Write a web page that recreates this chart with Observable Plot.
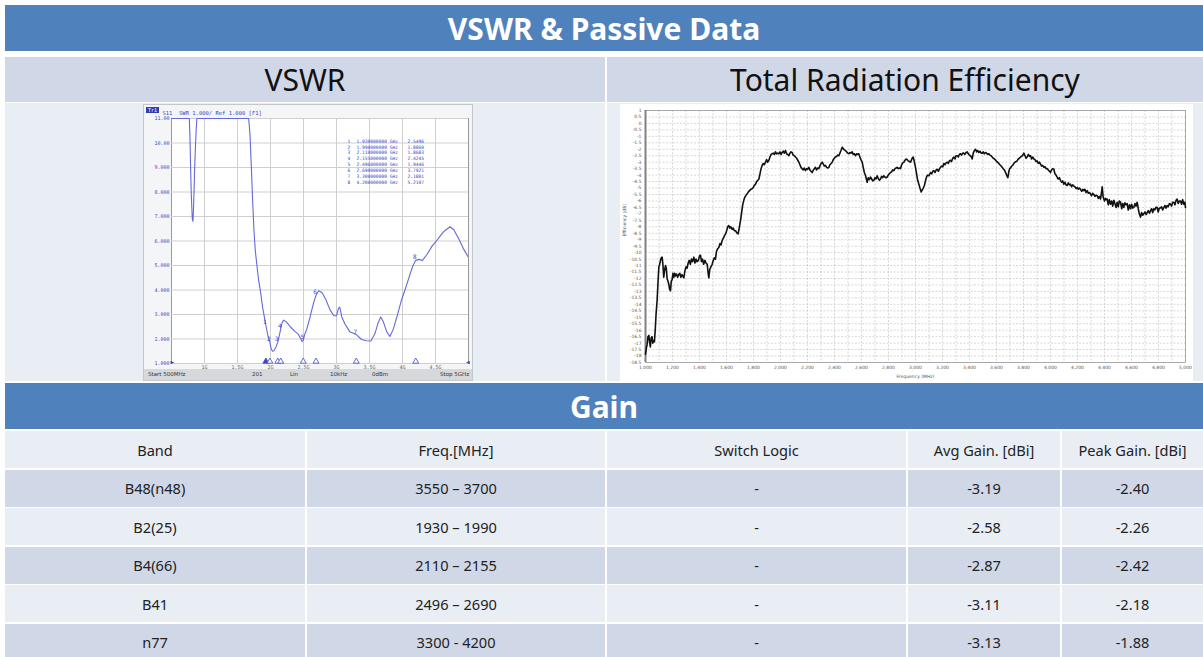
<!DOCTYPE html>
<html><head><meta charset="utf-8">
<script src="https://cdn.jsdelivr.net/npm/d3@7"></script>
<script src="https://cdn.jsdelivr.net/npm/@observablehq/plot@0.6"></script>
<style>
body{margin:0;width:1203px;height:657px;position:relative;overflow:hidden;background:#fff;font-family:"Noto Sans","Open Sans",sans-serif;}
.abs{position:absolute;box-sizing:border-box;}
.hdr{background:#4F81BD;color:#fff;font-weight:bold;display:flex;align-items:center;justify-content:center;font-size:30px;}
.sub{background:#D0D8E8;color:#111;display:flex;align-items:center;justify-content:center;font-size:30px;}
.cell{display:flex;align-items:center;justify-content:center;font-size:14.6px;color:#222;}
</style></head><body>
<script>
// ---------- data ----------
const pageTitle = "VSWR & Passive Data";
const panelTitles = ["VSWR", "Total Radiation Efficiency"];
const gainTitle = "Gain";

// VSWR trace (GHz, VSWR)
const vswrFreq = [0.5,0.77,0.78,0.79,0.80,0.815,0.825,0.835,0.85,0.865,0.875,0.885,1.67,1.69,1.71,1.73,1.75,1.77,1.79,1.82,1.85,1.88,1.91,1.93,1.96,1.99,2.01,2.03,2.05,2.08,2.11,2.13,2.155,2.18,2.20,2.24,2.30,2.36,2.42,2.46,2.48,2.496,2.52,2.55,2.60,2.65,2.69,2.73,2.78,2.84,2.90,2.96,3.00,3.03,3.05,3.08,3.13,3.20,3.30,3.38,3.45,3.52,3.58,3.63,3.67,3.71,3.76,3.81,3.86,3.92,3.98,4.05,4.12,4.16,4.20,4.25,4.30,4.37,4.45,4.50,4.57,4.63,4.72,4.78,4.85,4.92,5.0];
const vswrValue = [11,11,10.2,8.9,7.9,6.9,6.8,7.4,8.9,10.0,10.6,11,11,10.3,9.0,7.6,6.4,5.6,5.1,4.4,3.9,3.3,2.85,2.55,2.15,1.886,1.6,1.5,1.52,1.65,1.87,2.1,2.42,2.7,2.77,2.7,2.5,2.33,2.2,2.0,1.9,1.94,2.2,2.4,2.9,3.45,3.79,3.97,3.9,3.6,3.2,2.95,2.95,3.25,3.3,2.9,2.6,2.3,2.18,1.98,1.93,1.92,2.2,2.65,2.9,2.7,2.3,2.1,2.4,2.95,3.55,4.1,4.7,5.0,5.21,5.25,5.2,5.45,5.8,5.95,6.2,6.4,6.58,6.45,6.1,5.7,5.33];
const markerNum = [1,2,3,4,5,6,7,8];
const markerFreq = [1.93,1.99,2.11,2.155,2.496,2.69,3.30,4.20];
const markerVswr = [2.5496,1.8860,1.8683,2.4245,1.9446,3.7921,2.1801,5.2107];
const markerFreqText = ["1.930000000 GHz","1.990000000 GHz","2.110000000 GHz","2.155000000 GHz","2.496000000 GHz","2.690000000 GHz","3.300000000 GHz","4.200000000 GHz"];
const vswrXTicks = [1,1.5,2,2.5,3,3.5,4,4.5];
const vswrXLabels = ["1G","1.5G","2G","2.5G","3G","3.5G","4G","4.5G"];
const vswrYTicks = [1,2,3,4,5,6,7,8,9,10,11];
const vswrYLabels = ["1.000","2.000","3.000","4.000","5.000","6.000","7.000","8.000","9.000","10.00","11.00"];
const vswrStatus = ["Start 500MHz","201","Lin","10kHz","0dBm","Stop 5GHz"];

// Efficiency trace (MHz, dB)
const effFreq = [1000,1008,1012,1018,1025,1030,1036,1042,1048,1054,1060,1066,1072,1078,1086,1092,1099,1105,1111,1117,1123,1129,1135,1141,1148,1154,1160,1166,1172,1178,1185,1191,1197,1203,1210,1216,1222,1230,1238,1246,1254,1262,1270,1278,1284,1292,1300,1308,1316,1324,1332,1340,1348,1358,1366,1374,1382,1392,1400,1407,1415,1423,1431,1440,1448,1457,1463,1469,1476,1484,1494,1502,1510,1518,1526,1534,1543,1552,1560,1568,1576,1584,1593,1601,1609,1617,1625,1633,1642,1650,1658,1667,1675,1686,1694,1704,1712,1720,1728,1736,1745,1753,1762,1771,1780,1790,1798,1806,1815,1823,1832,1840,1848,1856,1864,1872,1880,1889,1897,1905,1914,1922,1930,1938,1947,1955,1963,1971,1980,1988,1996,2004,2012,2020,2028,2037,2045,2054,2062,2070,2078,2086,2094,2103,2111,2120,2128,2136,2144,2152,2160,2168,2176,2185,2193,2201,2210,2218,2226,2235,2243,2251,2259,2267,2276,2284,2292,2300,2309,2317,2325,2333,2341,2350,2358,2366,2375,2383,2391,2399,2407,2416,2424,2432,2440,2448,2457,2465,2473,2481,2490,2498,2506,2514,2522,2531,2539,2547,2556,2564,2572,2580,2588,2596,2605,2613,2621,2630,2636,2642,2650,2658,2667,2675,2683,2691,2700,2708,2716,2724,2733,2741,2749,2757,2765,2773,2782,2790,2798,2806,2815,2823,2831,2840,2848,2856,2864,2872,2880,2889,2897,2905,2914,2922,2930,2938,2946,2955,2963,2971,2978,2983,2990,3000,3008,3016,3025,3033,3042,3050,3058,3066,3075,3083,3091,3100,3111,3120,3128,3136,3145,3153,3161,3170,3178,3185,3194,3202,3210,3218,3226,3235,3243,3251,3259,3267,3276,3284,3292,3300,3309,3317,3325,3333,3341,3350,3358,3366,3375,3383,3391,3399,3407,3414,3420,3428,3436,3445,3453,3461,3469,3478,3486,3494,3502,3510,3519,3527,3535,3543,3551,3560,3568,3576,3585,3593,3601,3609,3617,3625,3634,3642,3650,3658,3667,3675,3684,3690,3697,3704,3712,3720,3728,3736,3745,3753,3761,3770,3778,3786,3795,3803,3811,3819,3827,3836,3844,3852,3860,3868,3877,3885,3893,3901,3910,3918,3926,3934,3942,3951,3959,3967,3975,3984,3992,4000,4008,4016,4025,4033,4041,4049,4057,4066,4074,4082,4090,4099,4107,4115,4124,4132,4140,4148,4156,4165,4173,4181,4190,4198,4206,4214,4222,4231,4239,4247,4255,4263,4272,4280,4288,4296,4304,4312,4321,4329,4337,4346,4354,4362,4370,4376,4383,4390,4400,4408,4415,4420,4428,4436,4445,4453,4461,4469,4477,4486,4494,4502,4510,4519,4527,4535,4543,4551,4560,4568,4576,4585,4593,4601,4609,4617,4626,4634,4642,4650,4658,4667,4675,4683,4691,4700,4708,4716,4724,4733,4741,4749,4757,4765,4773,4781,4790,4798,4806,4815,4823,4831,4840,4848,4856,4864,4872,4881,4889,4897,4905,4914,4922,4930,4938,4946,4955,4963,4971,4979,4988,4995,5000];
const effValue = [-17.85,-17.3,-17.1,-16.5,-16.4,-16.9,-17.3,-16.6,-16.5,-17.0,-16.8,-16.9,-16.0,-14.8,-13.7,-12.4,-11.1,-10.9,-10.6,-10.4,-10.35,-10.9,-11.9,-11.4,-11.0,-11.2,-12.0,-12.2,-12.4,-12.8,-12.95,-12.2,-12.1,-11.6,-11.9,-11.6,-11.8,-11.65,-11.9,-11.7,-11.6,-11.9,-11.7,-11.85,-11.95,-11.4,-11.1,-11.2,-10.8,-10.6,-10.9,-10.5,-10.7,-10.35,-10.8,-10.5,-10.7,-10.6,-10.25,-10.2,-10.7,-10.5,-10.9,-10.6,-10.8,-10.9,-11.5,-11.95,-11.3,-11.1,-10.9,-10.6,-10.4,-10.5,-9.9,-9.7,-9.6,-9.3,-9.4,-9.05,-8.9,-8.7,-8.55,-8.3,-8.0,-7.9,-8.1,-8.0,-8.2,-8.1,-8.3,-8.3,-8.45,-8.55,-8.1,-7.5,-6.9,-6.3,-5.95,-5.7,-5.55,-5.45,-5.3,-5.2,-5.1,-5.05,-4.95,-4.8,-4.7,-4.5,-4.4,-4.3,-3.9,-3.5,-3.25,-3.1,-3.2,-3.0,-2.8,-3.0,-2.85,-2.6,-2.4,-2.35,-2.3,-2.4,-2.2,-2.35,-2.3,-2.35,-2.2,-2.4,-2.25,-2.15,-2.3,-2.1,-2.35,-2.4,-2.5,-2.3,-2.2,-2.25,-2.45,-2.5,-2.6,-2.7,-2.85,-3.0,-3.2,-3.4,-3.5,-3.6,-3.45,-3.65,-3.5,-3.55,-3.4,-3.6,-3.7,-3.8,-3.6,-3.5,-3.4,-3.6,-3.45,-3.5,-3.3,-3.1,-3.0,-3.15,-3.3,-3.25,-3.4,-3.45,-3.4,-3.2,-3.1,-3.0,-2.8,-2.7,-2.6,-2.55,-2.45,-2.5,-2.3,-2.1,-1.85,-1.95,-2.05,-2.1,-2.2,-2.3,-2.35,-2.25,-2.3,-2.2,-2.4,-2.35,-2.5,-2.35,-2.4,-2.35,-2.6,-2.8,-3.0,-3.4,-3.8,-4.05,-4.3,-4.55,-4.2,-4.35,-4.15,-4.3,-4.45,-4.4,-4.2,-4.3,-4.05,-4.25,-4.4,-4.3,-4.1,-4.2,-4.05,-4.15,-4.2,-4.15,-4.0,-3.9,-3.8,-3.75,-3.6,-3.65,-3.5,-3.45,-3.4,-3.5,-3.45,-3.5,-3.2,-3.05,-3.0,-2.85,-2.75,-2.8,-2.9,-2.95,-3.0,-2.8,-2.65,-2.6,-2.9,-3.4,-3.9,-4.4,-4.7,-5.0,-5.3,-5.15,-5.0,-4.8,-4.4,-4.1,-4.0,-4.05,-3.8,-3.9,-3.7,-3.65,-3.8,-3.6,-3.55,-3.7,-3.5,-3.4,-3.3,-3.35,-3.1,-3.2,-3.05,-3.0,-3.1,-2.9,-2.85,-2.95,-2.7,-2.6,-2.75,-2.5,-2.5,-2.6,-2.4,-2.35,-2.45,-2.3,-2.3,-2.4,-2.25,-2.2,-2.35,-2.45,-2.5,-2.6,-2.75,-2.3,-2.1,-2.0,-2.2,-2.1,-2.25,-2.15,-2.3,-2.3,-2.2,-2.35,-2.25,-2.3,-2.4,-2.35,-2.45,-2.5,-2.6,-2.7,-2.75,-2.85,-2.95,-3.0,-3.1,-3.2,-3.3,-3.4,-3.5,-3.6,-3.8,-4.0,-4.2,-3.8,-3.5,-3.45,-3.3,-3.25,-3.1,-3.0,-2.95,-2.9,-2.75,-2.7,-2.6,-2.55,-2.45,-2.3,-2.5,-2.7,-2.6,-2.4,-2.55,-2.5,-2.75,-2.6,-2.75,-2.8,-2.95,-2.9,-3.1,-3.0,-3.15,-3.3,-3.25,-3.4,-3.35,-3.5,-3.5,-3.6,-3.7,-3.8,-3.6,-3.5,-3.55,-3.9,-4.0,-4.15,-4.3,-4.2,-4.4,-4.55,-4.45,-4.7,-4.55,-4.75,-4.8,-4.6,-4.75,-4.7,-4.9,-4.75,-4.85,-4.9,-5.05,-4.95,-5.1,-5.0,-5.1,-5.25,-5.1,-5.2,-5.1,-5.35,-5.2,-5.4,-5.35,-5.45,-5.6,-5.4,-5.5,-5.65,-5.55,-5.6,-5.8,-5.65,-5.85,-5.5,-4.9,-5.7,-6.0,-5.8,-5.9,-5.85,-6.3,-5.9,-6.25,-6.0,-6.4,-5.95,-6.2,-6.5,-6.1,-6.45,-6.0,-6.1,-6.6,-6.2,-6.5,-6.15,-6.3,-6.2,-6.7,-6.3,-6.6,-6.25,-6.55,-6.5,-6.2,-6.4,-6.1,-6.6,-7.0,-7.25,-6.9,-7.1,-7.0,-6.85,-7.05,-6.9,-6.75,-6.95,-6.75,-6.6,-6.9,-6.6,-6.7,-6.5,-6.5,-6.85,-6.55,-6.55,-6.45,-6.7,-6.5,-6.35,-6.55,-6.35,-6.45,-6.2,-6.25,-6.4,-6.1,-6.1,-6.3,-5.95,-5.85,-6.2,-6.0,-6.0,-6.25,-5.9,-6.25,-6.1,-6.5];
const effXTicks = [1000,1200,1400,1600,1800,2000,2200,2400,2600,2800,3000,3200,3400,3600,3800,4000,4200,4400,4600,4800,5000];
const effXGrid = [1000,1100,1200,1300,1400,1500,1600,1700,1800,1900,2000,2100,2200,2300,2400,2500,2600,2700,2800,2900,3000,3100,3200,3300,3400,3500,3600,3700,3800,3900,4000,4100,4200,4300,4400,4500,4600,4700,4800,4900,5000];
const effYTicks = [1,0.5,0,-0.5,-1,-1.5,-2,-2.5,-3,-3.5,-4,-4.5,-5,-5.5,-6,-6.5,-7,-7.5,-8,-8.5,-9,-9.5,-10,-10.5,-11,-11.5,-12,-12.5,-13,-13.5,-14,-14.5,-15,-15.5,-16,-16.5,-17,-17.5,-18,-18.5];
const effXDomain = [1000, 5000];
const effYDomain = [-18.5, 1];

// Gain table
const gainColumns = ["Band","Freq.[MHz]","Switch Logic","Avg Gain. [dBi]","Peak Gain. [dBi]"];
const bands = ["B48(n48)","B2(25)","B4(66)","B41","n77"];
const freqRanges = ["3550 – 3700","1930 – 1990","2110 – 2155","2496 – 2690","3300 - 4200"];
const switchLogic = ["-","-","-","-","-"];
const avgGain = [-3.19,-2.58,-2.87,-3.11,-3.13];
const peakGain = [-2.40,-2.26,-2.42,-2.18,-1.88];

// ---------- layout helpers ----------
function box(cls, x, y, w, h, text, extra) {
  const d = document.createElement("div");
  d.className = "abs " + cls;
  Object.assign(d.style, {left: x + "px", top: y + "px", width: w + "px", height: h + "px"}, extra || {});
  if (text != null) d.textContent = text;
  document.body.appendChild(d);
  return d;
}

box("hdr", 5, 5, 1198, 46, pageTitle);
box("sub", 5, 57, 600, 45, panelTitles[0]);
box("sub", 607, 57, 596, 45, panelTitles[1]);
box("", 5, 103, 600, 278, null, {background: "#E9EDF4"});
box("", 607, 103, 596, 278, null, {background: "#E9EDF4"});
box("hdr", 5, 383, 1198, 46, gainTitle);

// ---------- VSWR chart ----------
const vswrData = vswrFreq.map((f, i) => ({f, v: vswrValue[i]}));
const markers = markerNum.map((n, i) => ({n, f: markerFreq[i], v: markerVswr[i], ft: markerFreqText[i]}));
const vswrWrap = box("", 143, 104, 330, 277, null, {background: "#F4F5F7", border: "1px solid #C4C8CE"});
const blue = "#3A45C8";
const vswrPlot = Plot.plot({
  width: 328, height: 275,
  marginLeft: 27, marginRight: 4, marginTop: 13, marginBottom: 17,
  style: {background: "transparent", fontSize: "5px", fontFamily: "'DejaVu Sans Mono', monospace"},
  x: {domain: [0.5, 5]},
  y: {domain: [1, 11]},
  marks: [
    Plot.frame({fill: "white", stroke: "#9a9a9a"}),
    Plot.gridX(vswrXTicks, {stroke: "#cfcfcf", strokeOpacity: 1}),
    Plot.gridY(vswrYTicks, {stroke: "#cfcfcf", strokeOpacity: 1}),
    Plot.axisX(vswrXTicks, {tickSize: 0, tickPadding: 2, fill: "#666", tickFormat: d => vswrXLabels[vswrXTicks.indexOf(d)], label: null}),
    Plot.axisY(vswrYTicks, {tickSize: 0, tickPadding: 2, fill: blue, tickFormat: d => vswrYLabels[vswrYTicks.indexOf(d)], label: null}),
    Plot.line(vswrData, {x: "f", y: "v", stroke: "#6468DC", strokeWidth: 1.1, clip: true}),
    Plot.text(markers, {x: "f", y: "v", text: d => String(d.n), fill: blue, fontSize: 6, dx: -1, dy: -3}),
    Plot.dot(markers, {x: "f", y: () => 1, symbol: "triangle", r: 2.2, stroke: blue, fill: (d) => d.n === 1 ? blue : "white", strokeWidth: 0.8, dy: -2}),
    Plot.text([markers.map(d => d.n).join("\n")], {frameAnchor: "top-left", dx: 176, dy: 20, fill: blue, fontSize: 4.6, lineHeight: 1.28, textAnchor: "start"}),
    Plot.text([markers.map(d => d.ft).join("\n")], {frameAnchor: "top-left", dx: 185, dy: 20, fill: blue, fontSize: 4.6, lineHeight: 1.28, textAnchor: "start"}),
    Plot.text([markers.map(d => d.v.toFixed(4)).join("\n")], {frameAnchor: "top-left", dx: 236, dy: 20, fill: blue, fontSize: 4.6, lineHeight: 1.28, textAnchor: "start"}),
    Plot.text(["▶"], {frameAnchor: "bottom-left", fill: blue, fontSize: 6, dx: -1}),
    Plot.text(["◀"], {frameAnchor: "bottom-right", fill: blue, fontSize: 6, dx: 1}),
    Plot.text(["S11  SWR 1.000/ Ref 1.000 [F1]"], {frameAnchor: "top-left", dy: -7, dx: -9, fill: blue, fontSize: 5.5, textAnchor: "start"})
  ]
});
vswrPlot.style.position = "absolute";
vswrPlot.style.left = "0px";
vswrPlot.style.top = "0px";
vswrWrap.appendChild(vswrPlot);
const tr = document.createElement("div");
Object.assign(tr.style, {position: "absolute", left: "2px", top: "2px", width: "13px", height: "6px", background: "#2F3BB8", color: "#fff", fontSize: "5px", lineHeight: "6px", fontFamily: "'DejaVu Sans Mono', monospace", textAlign: "center"});
tr.textContent = "Tr1";
vswrWrap.appendChild(tr);
const statusBar = document.createElement("div");
Object.assign(statusBar.style, {position: "absolute", left: "0px", top: "264px", width: "328px", height: "11px", background: "#D6D8DC", fontSize: "5.5px", fontFamily: "'DejaVu Sans', sans-serif", color: "#333"});
const statusX = [4, 108, 146, 186, 228, 296];
vswrStatus.forEach((s, i) => {
  const sp = document.createElement("span");
  Object.assign(sp.style, {position: "absolute", left: statusX[i] + "px", top: "2px", whiteSpace: "nowrap"});
  sp.textContent = s;
  statusBar.appendChild(sp);
});
vswrWrap.appendChild(statusBar);

// ---------- Efficiency chart ----------
const effData = effFreq.map((f, i) => ({f, v: effValue[i]}));
const effWrap = box("", 620, 104, 573, 277, null, {background: "#FFFFFF"});
const fmtComma = d3.format(",");
const effPlot = Plot.plot({
  width: 573, height: 277,
  marginLeft: 25, marginRight: 8, marginTop: 6, marginBottom: 19,
  style: {background: "white", fontSize: "4.5px", fontFamily: "'DejaVu Sans', sans-serif", color: "#444"},
  x: {domain: effXDomain},
  y: {domain: effYDomain},
  marks: [
    Plot.gridY(effYTicks, {stroke: "#bdbdbd", strokeOpacity: 1, strokeDasharray: "2,1.5", strokeWidth: 0.6}),
    Plot.gridX(effXGrid, {stroke: "#bdbdbd", strokeOpacity: 1, strokeDasharray: "2,1.5", strokeWidth: 0.6}),
    Plot.frame({stroke: "#9a9a9a", strokeWidth: 0.8}),
    Plot.ruleX([effXDomain[0]], {stroke: "#808080", strokeWidth: 2}),
    Plot.axisY(effYTicks, {tickSize: 0, tickPadding: 4, fill: "#555", label: null, tickFormat: d => String(d)}),
    Plot.axisX(effXTicks, {tickSize: 0, tickPadding: 3, fill: "#555", label: null, tickFormat: d => fmtComma(d)}),
    Plot.line(effData, {x: "f", y: "v", stroke: "#111", strokeWidth: 1.6}),
    Plot.text(["Efficiency [dB]"], {frameAnchor: "left", rotate: -90, dx: -21, fill: "#555", fontSize: 4.5}),
    Plot.text(["Frequency (MHz)"], {frameAnchor: "bottom", dy: 15, fill: "#555", fontSize: 4.5})
  ]
});
effPlot.style.position = "absolute";
effPlot.style.left = "0px";
effPlot.style.top = "0px";
effWrap.appendChild(effPlot);

// ---------- Gain table ----------
const colX = [5, 307, 607, 908, 1062];
const colW = [300, 298, 299, 152, 141];
const rowY = [431, 469.5, 508, 546.5, 585, 623.5];
const rowH = 37;
const rows = [gainColumns].concat(bands.map((b, i) => [b, freqRanges[i], switchLogic[i], avgGain[i].toFixed(2), peakGain[i].toFixed(2)]));
rows.forEach((r, ri) => {
  r.forEach((t, ci) => {
    box("cell", colX[ci], rowY[ri], colW[ci], rowH, t, {background: ri % 2 === 1 ? "#D0D8E8" : "#E9EDF4"});
  });
});
</script>
</body></html>
